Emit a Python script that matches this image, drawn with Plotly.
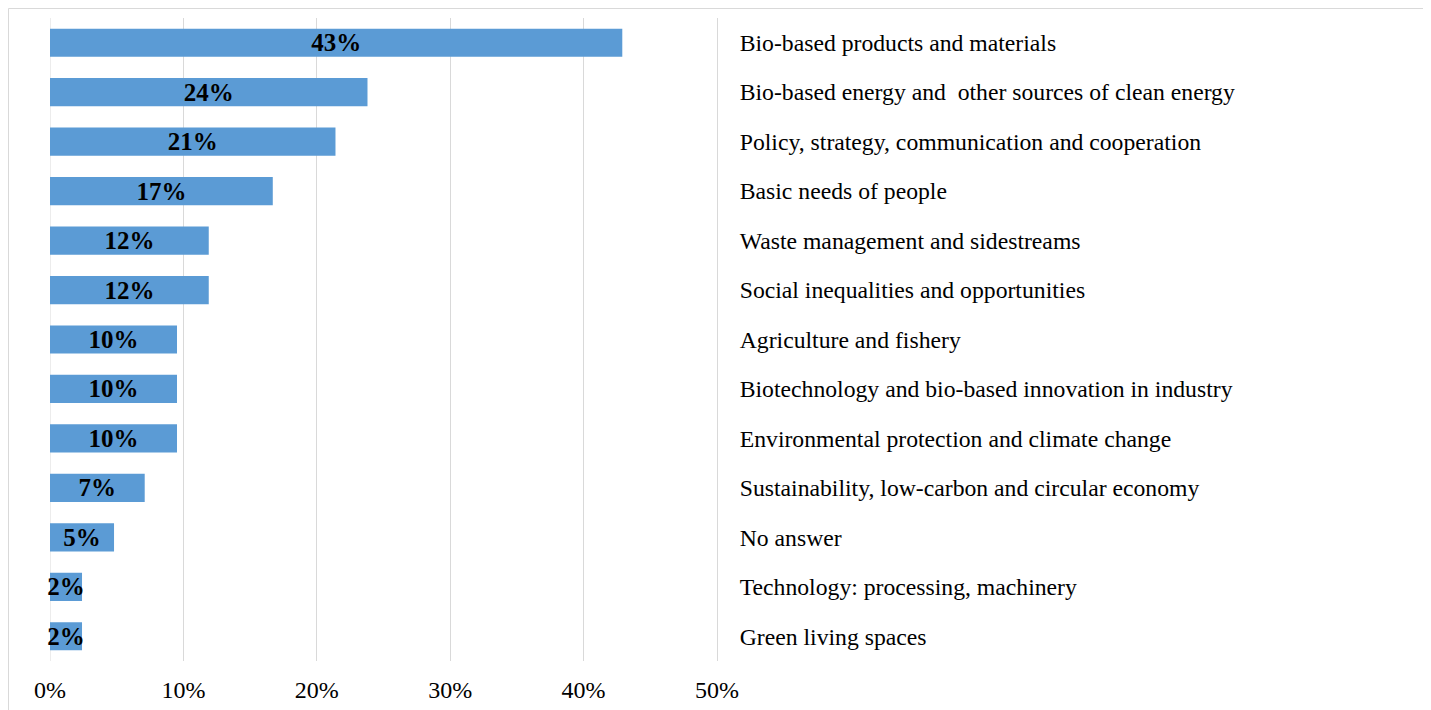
import plotly.graph_objects as go

categories = [
    "Bio-based products and materials",
    "Bio-based energy and\u00a0 other sources of clean energy",
    "Policy, strategy, communication and cooperation",
    "Basic needs of people",
    "Waste management and sidestreams",
    "Social inequalities and opportunities",
    "Agriculture and fishery",
    "Biotechnology and bio-based innovation in industry",
    "Environmental protection and climate change",
    "Sustainability, low-carbon and circular economy",
    "No answer",
    "Technology: processing, machinery",
    "Green living spaces",
]
values = [42.9, 23.8, 21.4, 16.7, 11.9, 11.9, 9.52, 9.52, 9.52, 7.1, 4.8, 2.4, 2.4]
x_ticks = [0, 10, 20, 30, 40, 50]

# page body has an 8px margin; work in figure coordinates
OFF = 8
W, H = 1431 - OFF, 710 - OFF
L, R, T, B = 50 - OFF, 717 - OFF, 18 - OFF, 661 - OFF
FONT = "Liberation Serif, Times New Roman, serif"

fig = go.Figure(
    go.Bar(
        x=values,
        y=categories,
        orientation="h",
        marker=dict(color="#5b9bd5", line=dict(width=0)),
        width=0.57,
        texttemplate="<b>%{x:.0f}%</b>",
        textposition="inside",
        insidetextanchor="middle",
        insidetextfont=dict(family=FONT, size=25, color="black"),
        cliponaxis=False,
        hoverinfo="skip",
    )
)

fig.update_layout(
    width=W,
    height=H,
    margin=dict(l=L, r=W - R, t=T, b=H - B, pad=0, autoexpand=False),
    paper_bgcolor="white",
    plot_bgcolor="white",
    showlegend=False,
    uniformtext=dict(minsize=25, mode="show"),
    font=dict(family=FONT, size=23.7, color="black"),
    xaxis=dict(
        range=[0, 50],
        tickvals=x_ticks,
        ticktext=[f"{t}%" for t in x_ticks],
        showgrid=True,
        gridcolor="#d9d9d9",
        gridwidth=1,
        zeroline=False,
        showline=False,
        ticks="",
        automargin=False,
        ticklabelstandoff=12,
        tickfont=dict(family=FONT, size=24, color="black"),
        fixedrange=True,
    ),
    yaxis=dict(
        side="right",
        autorange="reversed",
        showgrid=False,
        showline=True,
        linecolor="#d9d9d9",
        linewidth=1,
        ticks="",
        automargin=False,
        ticklabelstandoff=17,
        tickfont=dict(family=FONT, size=23.7, color="black"),
        fixedrange=True,
    ),
    shapes=[
        dict(
            type="rect",
            xref="paper",
            yref="paper",
            x0=(0.5 - L) / (R - L),
            x1=(1426 - OFF - L) / (R - L),
            y0=(B - 715) / (B - T),
            y1=1 + (T - 0.5) / (B - T),
            line=dict(color="#d9d9d9", width=1),
            fillcolor="rgba(0,0,0,0)",
            layer="below",
        ),
        dict(
            type="line",
            xref="x",
            yref="paper",
            x0=0,
            x1=0,
            y0=0,
            y1=1,
            line=dict(color="#d9d9d9", width=1),
            layer="below",
        ),
    ],
)

fig.write_html("out.html")
